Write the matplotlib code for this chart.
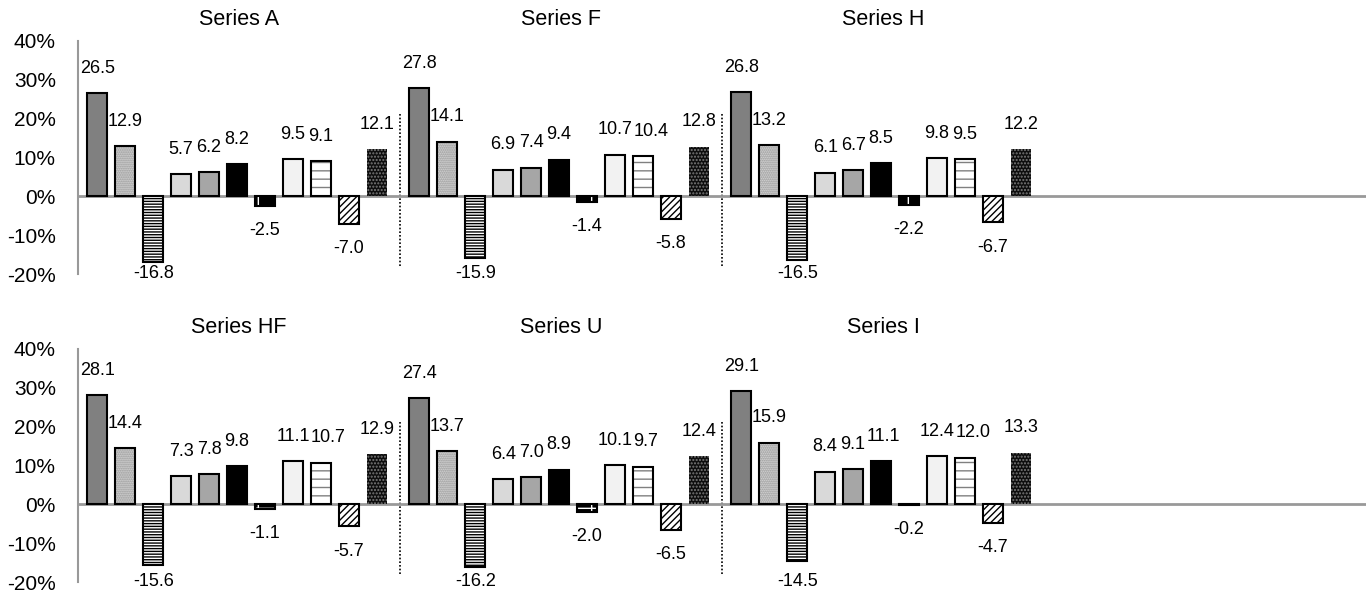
import numpy as np
import matplotlib
matplotlib.use("Agg")
import matplotlib.pyplot as plt

plt.rcParams['font.family'] = ['Liberation Sans', 'DejaVu Sans']
plt.rcParams['hatch.linewidth'] = 1.0

row1_titles = ["Series A", "Series F", "Series H"]
row2_titles = ["Series HF", "Series U", "Series I"]

series_a = [26.5, 12.9, -16.8, 5.7, 6.2, 8.2, -2.5, 9.5, 9.1, -7.0, 12.1]
series_f = [27.8, 14.1, -15.9, 6.9, 7.4, 9.4, -1.4, 10.7, 10.4, -5.8, 12.8]
series_h = [26.8, 13.2, -16.5, 6.1, 6.7, 8.5, -2.2, 9.8, 9.5, -6.7, 12.2]
series_hf = [28.1, 14.4, -15.6, 7.3, 7.8, 9.8, -1.1, 11.1, 10.7, -5.7, 12.9]
series_u = [27.4, 13.7, -16.2, 6.4, 7.0, 8.9, -2.0, 10.1, 9.7, -6.5, 12.4]
series_i = [29.1, 15.9, -14.5, 8.4, 9.1, 11.1, -0.2, 12.4, 12.0, -4.7, 13.3]

y_ticks = [-20, -10, 0, 10, 20, 30, 40]

# fill colour, hatch, hatch colour, outline
styles = [
    ("#808080", None, None, True),
    ("#e0e0e0", "........", "#8a8a8a", True),
    ("#ffffff", "------", "#000000", True),
    ("#d9d9d9", None, None, True),
    ("#a6a6a6", None, None, True),
    ("#000000", None, None, True),
    ("#000000", "+", "#ffffff", True),
    ("#f2f2f2", None, None, True),
    ("#ffffff", "--", "#808080", True),
    ("#ffffff", "/////", "#000000", True),
    ("#0d0d0d", ".....", "#7a7a7a", False),
]

n_cat = 4
step = 0.0868
width = 0.062
first = 0.060


def draw_row(ax, titles, groups):
    labels = []
    for g, vals in enumerate(groups):
        x = g + first + step * np.arange(len(vals))
        grp = []
        for i, v in enumerate(vals):
            fc, hatch, hc, outline = styles[i]
            ax.bar(x[i], v, width, color=fc, edgecolor="none", linewidth=0, zorder=2)
            if hatch:
                ax.bar(x[i], v, width, facecolor="none", edgecolor=hc, hatch=hatch,
                       linewidth=0, zorder=3)
            if outline:
                ax.bar(x[i], v, width, facecolor="none", edgecolor="black",
                       linewidth=1.5, zorder=4)
            if v >= 0:
                ly = v + 6.4
            else:
                ly = max(v - 6.4, -19.8)
            t = ax.text(x[i], ly, f"{v:.1f}", ha="center", va="center", fontsize=13,
                        zorder=5, clip_on=False)
            grp.append(t)
        labels.append(grp)
        ax.text(g + 0.5, 45.5, titles[g], ha="center", va="center", fontsize=15.5,
                clip_on=False)
        if g > 0:
            ax.plot([g, g], [-18, 21.5], color="black", linestyle=(0, (1, 1.2)),
                    linewidth=1.2, zorder=1)
    ax.axhline(0, color="#999999", linewidth=2, zorder=1)
    ax.set_xlim(0, n_cat)
    ax.set_ylim(-20, 40)
    ax.set_yticks(y_ticks)
    ax.set_yticklabels([f"{t}%" for t in y_ticks], fontsize=15)
    ax.tick_params(axis="y", length=0, pad=16)
    ax.set_xticks([])
    for s in ["top", "right", "bottom"]:
        ax.spines[s].set_visible(False)
    ax.spines["left"].set_color("#999999")
    ax.spines["left"].set_linewidth(1.5)
    ax.patch.set_alpha(0)
    return labels


def push_labels(fig, ax, labels):
    # nudge a label to the right when it runs into the one before it
    fig.canvas.draw()
    r = fig.canvas.get_renderer()
    px = n_cat / ax.get_window_extent().width
    for grp in labels:
        for a, b in zip(grp[:-1], grp[1:]):
            ba = a.get_window_extent(r)
            bb = b.get_window_extent(r)
            if ba.y1 > bb.y0 and bb.y1 > ba.y0 and ba.x1 > bb.x0:
                shift = ba.x1 - bb.x0 + 1
                x, y = b.get_position()
                b.set_position((x + shift * px, y))


fig = plt.figure(figsize=(13.72, 5.92), dpi=100)
ax1 = fig.add_axes([78 / 1372, 1 - 274 / 592, 1288 / 1372, 233 / 592])
ax2 = fig.add_axes([78 / 1372, 1 - 582 / 592, 1288 / 1372, 233 / 592])

lab1 = draw_row(ax1, row1_titles, [series_a, series_f, series_h])
lab2 = draw_row(ax2, row2_titles, [series_hf, series_u, series_i])
push_labels(fig, ax1, lab1)
push_labels(fig, ax2, lab2)

fig.savefig("out.png", dpi=100)
